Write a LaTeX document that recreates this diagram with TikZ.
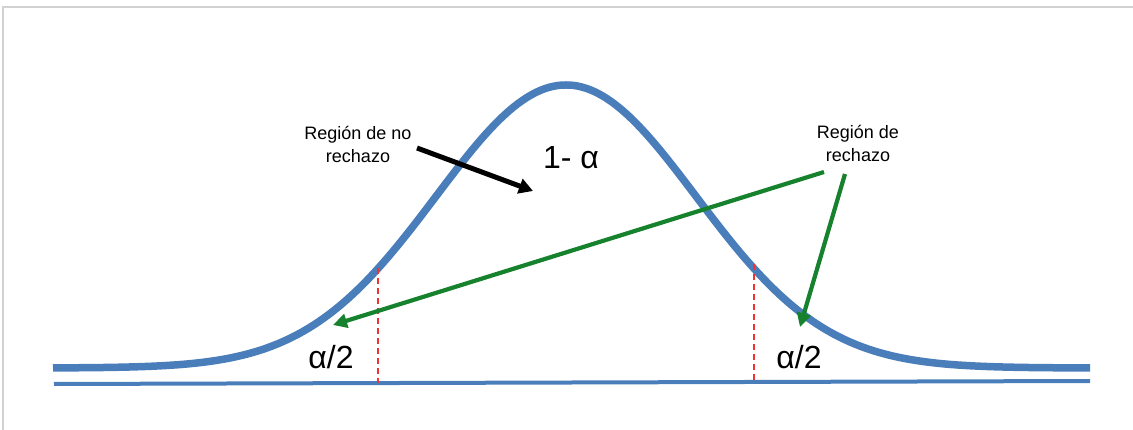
\documentclass[tikz,border=0pt]{standalone}
\usepackage{fontspec}
\setmainfont{Liberation Sans}
\usetikzlibrary{arrows.meta}
\definecolor{curveblue}{RGB}{74,126,187}
\definecolor{arrowgreen}{RGB}{22,130,45}
\definecolor{frame}{RGB}{210,210,210}
\definecolor{cutred}{RGB}{240,50,50}
\tikzset{
  lbl/.style={inner sep=0pt, align=center, font=\fontsize{18}{23}\selectfont},
  big/.style={inner sep=0pt, font=\fontsize{32}{36}\selectfont},
  garrow/.style={draw=arrowgreen, line width=4.2pt, -{Triangle[length=14pt,width=14pt]}},
  barrow/.style={draw=black, line width=5pt, -{Triangle[length=14pt,width=15pt]}},
  cut/.style={draw=cutred, line width=1.5pt, dash pattern=on 6pt off 4pt},
  curve/.style={draw=curveblue, line width=7.5pt, line join=round},
  axis/.style={draw=curveblue, line width=4pt}
}
\begin{document}
\begin{tikzpicture}[x=1pt,y=-1pt]
\useasboundingbox (0,0) rectangle (1133,430);
% frame
\draw[frame, line width=2pt] (3,430) -- (3,7) -- (1133,7);
% curve
\draw[curve] plot[domain=53:1090, samples=300, smooth]
  (\x, {368-283*exp(-0.5*((\x-566)/130)^2)});
% axis
\coordinate (axL) at (54,384);
\coordinate (axR) at (1090,381);
\draw[axis] (axL) -- (axR);
% cut lines
\coordinate (c1t) at (378,268);
\coordinate (c1b) at (378,383);
\coordinate (c2t) at (754,264);
\coordinate (c2b) at (754,382);
\draw[cut] (c1t) -- (c1b);
\draw[cut] (c2t) -- (c2b);
% labels
\node[lbl] (noreg) at (358,144) {Región de no\\rechazo};
\node[lbl] (reg) at (858,143) {Región de\\rechazo};
\node[big] (one) at (571,158) {1- α};
\node[big] (aL) at (331,357) {α/2};
\node[big] (aR) at (799,357) {α/2};
% arrows
\coordinate (bS) at (417,148);
\coordinate (bE) at (533,191);
\draw[barrow] (bS) -- (bE);
\coordinate (g1S) at (824,172);
\coordinate (g1E) at (333,325);
\draw[garrow] (g1S) -- (g1E);
\coordinate (g2S) at (845,174);
\coordinate (g2E) at (800,327);
\draw[garrow] (g2S) -- (g2E);
\end{tikzpicture}
\end{document}
